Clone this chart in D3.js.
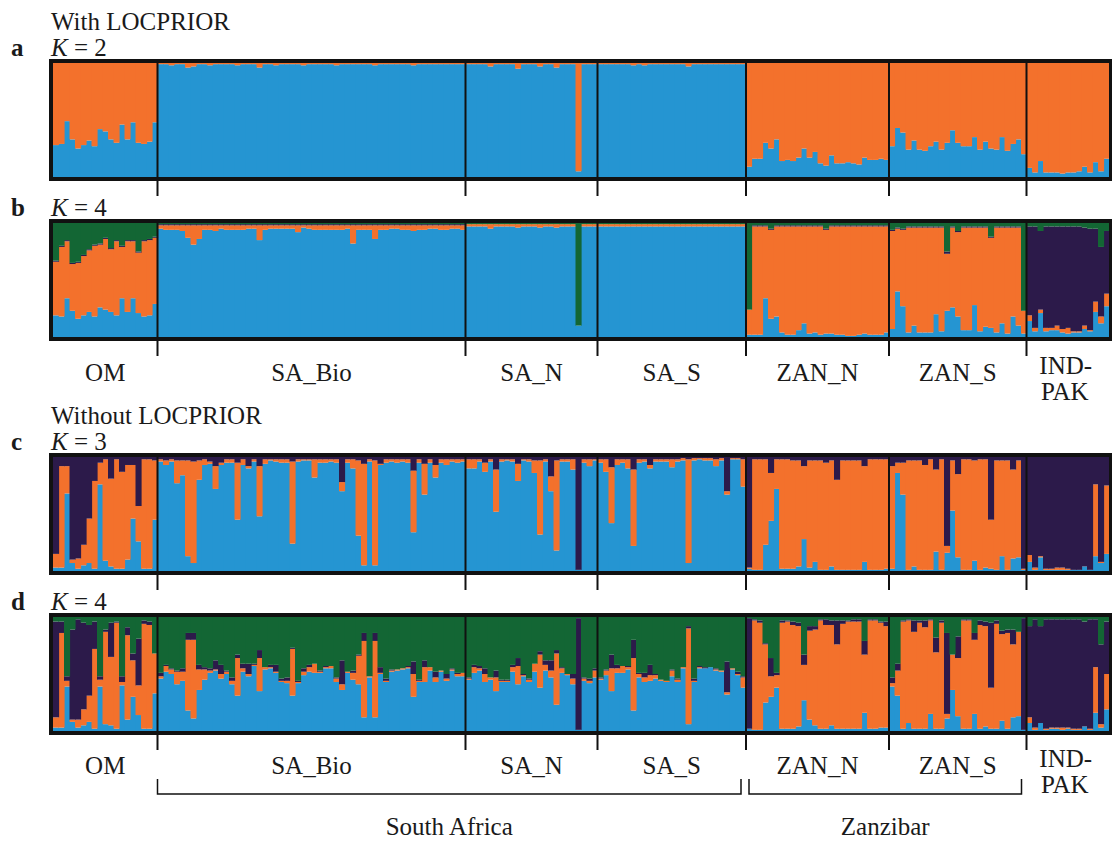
<!DOCTYPE html>
<html>
<head>
<meta charset="utf-8">
<script src="https://cdn.jsdelivr.net/npm/d3@7"></script>
<style>
body { margin: 0; background: #fff; }
text { font-family: "Liberation Serif", "Times New Roman", serif; fill: #1a1a1a; }
</style>
</head>
<body>
<svg id="chart" width="1112" height="841"></svg>
<script>
// populations, in plot order
var pops = ["OM", "SA_Bio", "SA_N", "SA_S", "ZAN_N", "ZAN_S", "IND-PAK"];
var popSizes = [19, 56, 24, 27, 26, 25, 15];

// ancestry proportions (%) per individual
// a: K = 2 with LOCPRIOR (orange is the rest)
var aBlue = [
  28,29,49,33,25,28,32,27,42,40, 33,30,46,33,48,30,29,31,48,
  99,99,98,99,99,96,97,99,99,98, 99,99,99,99,98,99,99,99,96,99, 99,98,99,99,99,99,98,99,99,99, 99,99,98,99,99,99,99,99,99,98, 99,99,99,99,99,99,98,99,99,99, 99,99,99,99,99,99,
  99,99,99,99,97,99,99,99,99,95, 99,99,99,97,99,99,96,99,99,99, 5,99,99,99,
  99,99,99,99,99,99,98,99,98,99, 99,99,99,99,99,99,97,99,99,99, 99,99,99,99,99,99,99,
  9,16,16,30,25,33,14,15,14,17, 25,17,22,12,10,19,12,12,13,12, 11,17,15,15,16,15,
  27,43,39,24,32,24,23,27,31,24, 30,41,30,27,27,35,24,31,25,24, 35,23,29,33,20,
  8,4,14,4,4,4,3,4,4,5, 9,4,13,5,16
];

// b: K = 4 with LOCPRIOR (green is the rest)
var bBlue = [
  19,18,34,23,16,19,22,18,26,24, 22,19,34,22,34,21,18,19,29,
  95,94,94,94,93,87,81,86,94,94, 93,95,94,94,94,94,95,95,85,94, 95,95,95,95,95,92,96,95,94,94, 94,94,94,94,95,82,94,94,94,86, 94,94,95,95,94,94,93,94,94,95, 95,94,94,95,95,94,
  97,97,97,97,95,97,97,97,97,96, 97,97,97,96,97,97,96,97,97,97, 10,97,97,97,
  97,97,97,97,97,97,97,97,97,97, 97,97,97,97,97,97,97,97,97,97, 97,97,97,97,97,97,97,
  2,2,2,34,16,18,4,2,2,6, 12,3,4,2,3,3,2,2,1,1, 2,3,2,2,2,4,
  7,40,27,4,10,4,4,4,20,5, 23,26,18,6,6,28,5,9,8,4, 12,3,18,10,3,
  14,5,21,5,6,6,4,3,4,4, 7,5,22,12,27
];
var bOrange = [
  47,61,50,41,49,52,54,62,55,62, 55,65,45,62,50,53,66,66,58,
  3,4,4,4,5,11,17,12,4,4, 5,3,4,4,4,4,3,3,13,4, 3,3,3,3,3,6,2,3,4,4, 4,4,4,4,3,16,4,4,4,12, 4,4,3,3,4,4,5,4,4,3, 3,4,4,3,3,4,
  2,2,2,2,4,2,2,2,2,3, 2,2,2,3,2,2,3,2,2,2, 0,2,2,2,
  2,2,2,2,2,2,2,2,2,2, 2,2,2,2,2,2,2,2,2,2, 2,2,2,2,2,2,2,
  22,95,95,63,78,79,93,95,95,91, 85,94,93,95,91,94,95,95,96,96, 95,94,95,95,95,93,
  86,55,67,92,86,92,92,92,76,91, 50,70,74,90,90,68,91,87,79,92, 84,93,78,86,20,
  5,3,3,3,2,4,3,5,1,1, 3,1,9,6,11
];
var bPurple = [
  1,1,1,1,1,1,1,1,1,1, 1,1,1,1,1,1,1,1,1,
  1,1,1,1,1,1,1,1,1,1, 1,1,1,1,1,1,1,1,1,1, 1,1,1,1,1,1,1,1,1,1, 1,1,1,1,1,1,1,1,1,1, 1,1,1,1,1,1,1,1,1,1, 1,1,1,1,1,1,
  0,0,0,0,0,0,0,0,0,0, 0,0,0,0,0,0,0,0,0,0, 0,0,0,0,
  0,0,0,0,0,0,0,0,0,0, 0,0,0,0,0,0,0,0,0,0, 0,0,0,0,0,0,0,
  0,1,1,1,1,1,1,1,1,1, 1,1,1,1,1,1,1,1,1,1, 1,1,1,1,1,1,
  1,1,1,1,1,1,1,1,1,1, 2,1,1,1,1,1,1,1,1,1, 1,1,1,1,0,
  78,89,69,89,89,87,90,89,92,92, 86,89,64,61,55
];

// c: K = 3 without LOCPRIOR (purple is the rest)
var cBlue = [
  3,3,68,7,2,5,7,2,76,9, 4,2,2,10,46,26,2,2,45,
  96,93,96,77,84,13,7,80,93,94, 72,93,95,95,45,93,90,96,48,94, 97,96,95,95,24,96,97,97,82,95, 95,96,95,70,95,90,31,5,96,5, 93,95,96,95,96,95,34,95,67,95, 82,95,93,96,95,96,
  90,90,96,87,96,52,96,97,96,79, 97,96,86,32,96,70,18,96,96,89, 1,95,92,97,
  95,87,42,93,95,90,22,95,96,90, 96,96,96,91,96,97,7,97,98,97, 97,92,97,67,98,98,74,
  2,1,1,23,44,72,2,2,2,4, 28,3,8,1,1,4,1,1,1,1, 1,8,1,1,1,2,
  2,86,67,1,4,1,1,1,17,1, 16,53,12,1,1,9,1,3,2,1, 13,1,11,12,1,
  8,1,12,1,1,1,1,1,1,1, 4,1,13,7,15
];
var cOrange = [
  12,89,24,3,9,18,39,77,19,89, 77,96,85,83,47,31,96,96,52,
  2,4,2,20,13,84,89,17,5,2, 20,2,3,3,50,5,2,2,44,4, 1,2,3,3,72,2,1,1,16,3, 3,2,3,8,3,8,66,89,2,92, 1,3,2,3,2,3,54,3,27,3, 11,3,5,2,3,2,
  8,8,2,8,2,37,2,1,2,15, 1,2,11,65,2,13,79,2,2,9, 0,3,6,1,
  3,11,49,5,3,8,67,3,2,3, 2,2,2,7,2,2,91,2,1,2, 2,6,2,3,1,1,24,
  1,97,97,75,42,26,96,96,95,93, 64,94,89,96,94,93,79,96,96,96, 96,84,97,97,97,96,
  90,9,28,96,93,96,92,97,72,97, 6,44,73,97,97,88,97,95,43,96, 84,96,78,85,1,
  6,2,1,1,1,2,2,1,0,0, 0,0,63,1,60
];

// d: K = 4 without LOCPRIOR (green is the rest)
var dBlue = [
  3,3,39,8,3,5,8,2,39,6, 5,2,40,10,30,14,2,2,33,
  46,52,50,41,44,18,11,36,45,51, 53,46,50,41,31,52,48,57,35,54, 55,51,43,42,31,42,49,52,51,51, 55,55,43,36,51,45,41,12,47,12, 50,43,52,53,54,55,30,43,43,53, 43,52,44,53,48,48,
  45,51,53,43,45,35,43,43,52,41, 48,43,52,38,53,47,23,51,49,41, 1,44,42,47,
  45,49,35,51,51,54,18,47,43,44, 46,44,43,48,43,55,6,43,55,55, 56,53,52,32,54,49,38,
  2,1,1,25,30,38,2,2,2,4, 27,10,5,2,2,5,2,2,2,2, 2,16,2,2,3,3,
  39,31,2,7,2,2,2,15,2,2, 11,36,13,2,2,15,2,4,2,2, 9,2,12,13,1,
  7,1,7,1,2,2,1,2,1,1, 4,1,16,3,19
];
var dOrange = [
  9,83,5,2,7,14,23,70,6,81, 60,93,3,74,32,26,92,91,35,
  2,5,4,11,8,62,69,18,9,2, 1,4,2,3,33,3,2,1,29,2, 1,1,1,2,41,1,3,4,8,1, 1,2,3,5,1,6,25,67,1,67, 1,1,1,1,1,1,20,1,13,3, 4,1,2,1,2,3,
  1,5,2,7,2,12,1,1,4,16, 1,2,7,29,5,6,45,4,1,5, 0,2,2,6,
  1,4,20,4,6,2,46,3,4,5, 3,1,1,5,2,1,84,1,1,0, 0,1,1,2,1,1,9,
  0,96,94,51,18,11,93,94,91,88, 31,78,84,95,91,88,74,92,94,94, 94,51,95,95,92,89,
  3,22,94,90,85,93,89,82,67,93, 4,31,51,95,95,65,91,88,36,92, 76,84,64,74,0,
  5,2,0,1,1,1,2,1,1,1, 0,1,40,3,31
];
var dPurple = [
  84,10,4,79,88,76,62,24,3,2, 30,1,5,7,6,41,3,3,0,
  3,1,1,1,3,6,6,4,2,2, 8,8,1,3,3,4,9,1,7,0, 2,6,2,3,1,1,3,2,0,1, 1,0,1,21,0,2,1,7,0,7, 5,2,1,0,0,1,11,1,6,0, 5,0,4,1,1,0,
  1,2,2,5,0,6,1,1,2,7, 1,1,0,3,4,9,3,1,0,4, 98,1,2,2,
  1,1,12,3,0,1,16,1,4,9, 1,0,0,1,1,0,2,2,1,1, 0,1,0,27,0,2,1,
  97,1,2,1,16,2,2,1,3,3, 9,4,3,1,5,4,21,3,1,2, 2,12,1,1,1,4,
  5,6,1,1,10,2,6,1,13,2, 71,0,19,1,1,6,4,4,57,3, 3,3,13,0,98,
  80,95,85,96,95,95,95,95,96,96, 92,96,42,70,46
];

var colors = { blue: "#2595d2", orange: "#f3712c", purple: "#2c1a4a", green: "#136634" };

var panels = [
  { letter: "a", k: "2", top: 63,  keys: ["blue", "orange"], values: [aBlue] },
  { letter: "b", k: "4", top: 223, keys: ["blue", "orange", "purple", "green"], values: [bBlue, bOrange, bPurple] },
  { letter: "c", k: "3", top: 457, keys: ["blue", "orange", "purple"], values: [cBlue, cOrange] },
  { letter: "d", k: "4", top: 617, keys: ["blue", "orange", "purple", "green"], values: [dBlue, dOrange, dPurple] }
];

var plotH = 114, tickLen = 19;
var svg = d3.select("#chart");

// one id per individual, grouped by population
var ids = [], popStart = [];
pops.forEach(function(p, i) {
  popStart.push(ids.length);
  for (var j = 0; j < popSizes[i]; j++) ids.push(p + "_" + j);
});

var x = d3.scaleBand().domain(ids).range([53, 1109]).paddingInner(0);
var bounds = popStart.map(function(s) { return x(ids[s]); }).concat([1109]);

panels.forEach(function(pn) {
  pn.values.forEach(function(v, j) {
    if (v.length !== ids.length) throw new Error("panel " + pn.letter + " series " + j + " has " + v.length);
  });
  var rows = ids.map(function(id, i) {
    var r = { id: id }, sum = 0;
    pn.keys.forEach(function(k, j) {
      if (j < pn.values.length) { r[k] = pn.values[j][i]; sum += r[k]; }
      else r[k] = Math.max(0, 100 - sum);
    });
    return r;
  });
  var y = d3.scaleLinear().domain([0, 100]).range([pn.top + plotH, pn.top]);
  var series = d3.stack().keys(pn.keys).offset(d3.stackOffsetExpand)(rows);
  y.domain([0, 1]);

  var g = svg.append("g");
  g.selectAll("g.layer")
    .data(series)
    .enter().append("g")
      .attr("class", "layer")
      .attr("fill", function(s) { return colors[s.key]; })
    .selectAll("rect")
    .data(function(s) { return s; })
    .enter().append("rect")
      .attr("x", function(d) { return x(d.data.id); })
      .attr("width", x.bandwidth() + 0.6)
      .attr("y", function(d) { return y(d[1]); })
      .attr("height", function(d) { return Math.max(0, y(d[0]) - y(d[1])); });

  // population dividers with ticks below the frame
  g.selectAll("line.div")
    .data(bounds.slice(1, bounds.length - 1))
    .enter().append("line")
      .attr("x1", function(d) { return d; }).attr("x2", function(d) { return d; })
      .attr("y1", pn.top).attr("y2", pn.top + plotH + tickLen)
      .attr("stroke", "#111").attr("stroke-width", 2);

  g.append("rect")
    .attr("x", 51).attr("y", pn.top - 2)
    .attr("width", 1060).attr("height", plotH + 4)
    .attr("fill", "none").attr("stroke", "#111").attr("stroke-width", 4);

  svg.append("text").attr("x", 11).attr("y", pn.top - 7)
    .style("font-size", "25px").style("font-weight", "bold").text(pn.letter);
  var kt = svg.append("text").attr("x", 51).attr("y", pn.top - 7).style("font-size", "25px");
  kt.append("tspan").style("font-style", "italic").text("K");
  kt.append("tspan").text(" = " + pn.k);
});

svg.append("text").attr("x", 51).attr("y", 30).style("font-size", "25px").text("With LOCPRIOR");
svg.append("text").attr("x", 51).attr("y", 424).style("font-size", "25px").text("Without LOCPRIOR");

// population names under panels b and d
[{ y: 381 }, { y: 774 }].forEach(function(row) {
  pops.forEach(function(p, i) {
    var cx = (bounds[i] + bounds[i + 1]) / 2;
    if (p === "IND-PAK") {
      var t = svg.append("text").attr("text-anchor", "middle").style("font-size", "25px");
      t.append("tspan").attr("x", cx - 2).attr("y", row.y - 7).text("IND-");
      t.append("tspan").attr("x", cx - 3).attr("y", row.y + 19).text("PAK");
    } else {
      svg.append("text").attr("x", cx).attr("y", row.y)
        .attr("text-anchor", "middle").style("font-size", "25px").text(p);
    }
  });
});

// region brackets
var regions = [
  { name: "South Africa", x0: bounds[1], x1: bounds[4] - 5 },
  { name: "Zanzibar", x0: bounds[4] + 3, x1: bounds[6] - 5 }
];
regions.forEach(function(r) {
  svg.append("path")
    .attr("d", "M" + r.x0 + ",779V794H" + r.x1 + "V779")
    .attr("fill", "none").attr("stroke", "#111").attr("stroke-width", 1.5);
  svg.append("text").attr("x", (r.x0 + r.x1) / 2).attr("y", 835)
    .attr("text-anchor", "middle").style("font-size", "25px").text(r.name);
});
</script>
</body>
</html>
